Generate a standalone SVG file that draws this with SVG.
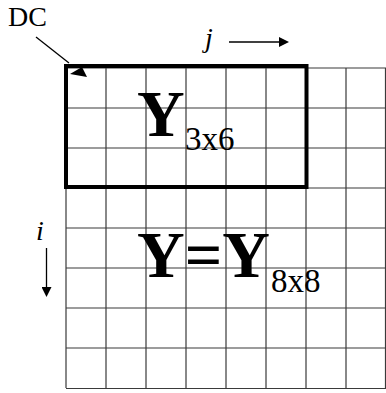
<svg xmlns="http://www.w3.org/2000/svg" width="386" height="393" viewBox="0 0 386 393">
<style>
.g{stroke:#3a3a3a;stroke-width:1.2;fill:none}
.t{font-family:"Liberation Serif","Times New Roman",serif;fill:#000}
.b{font-weight:bold;font-size:66px}
.s{font-size:33px}
.it{font-style:italic;font-size:28px}
.c{stroke:#000;stroke-width:1.3;fill:none}
</style>
<defs>
<marker id="ah" viewBox="0 0 10 10" refX="1" refY="5" markerWidth="10" markerHeight="10" markerUnits="userSpaceOnUse" orient="auto">
<path d="M0,0 L10,5 L0,10 Z" fill="#000"/>
</marker>
</defs>
<rect width="386" height="393" fill="#fff"/>
<g id="grid">
<path class="g" d="M66,68V388M106,68V388M146,68V388M186,68V388M226,68V388M266,68V388M306,68V388M346,68V388M385.5,68V388"/>
<path class="g" d="M66,68H386M66,108H386M66,148H386M66,188H386M66,228H386M66,268H386M66,308H386M66,348H386M66,388.5H386"/>
</g>
<g id="block">
<rect x="66" y="66" width="240.5" height="121" fill="none" stroke="#000" stroke-width="4"/>
</g>
<g id="labels">
<text class="t" x="8" y="26" font-size="28">DC</text>
<text class="t it" x="205" y="47">j</text>
<text class="t it" x="36" y="240">i</text>
<text class="t" x="137" y="136"><tspan class="b">Y</tspan><tspan class="s" x="185" y="150">3x6</tspan></text>
<text class="t" x="137" y="277"><tspan class="b">Y=Y</tspan><tspan class="s" x="271" y="292">8x8</tspan></text>
</g>
<g id="connectors">
<line class="c" x1="36" y1="37" x2="69" y2="63"/>
<polygon points="70,74 82,67 87,77" fill="#000"/>
<line class="c" x1="229" y1="42" x2="280" y2="42" marker-end="url(#ah)"/>
<line class="c" x1="46.5" y1="248" x2="46.5" y2="288" marker-end="url(#ah)"/>
</g>
</svg>
